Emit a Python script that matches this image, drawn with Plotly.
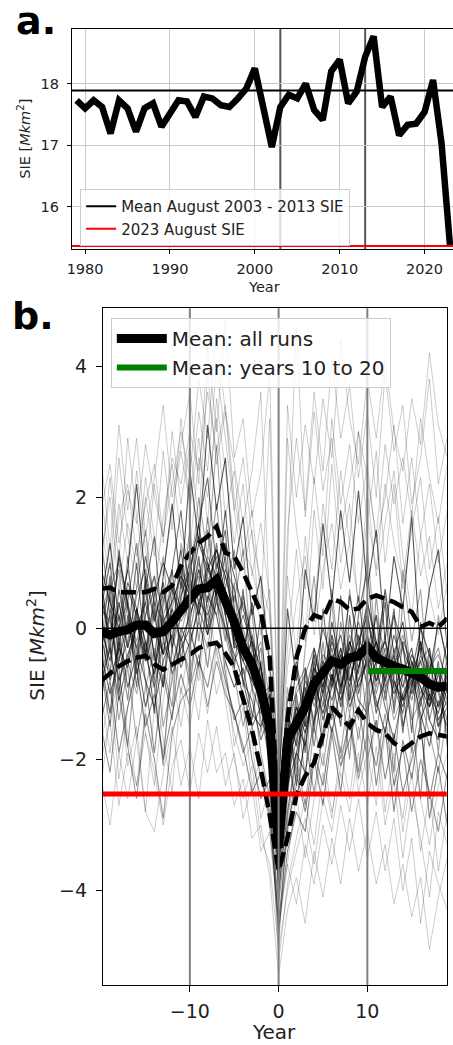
import numpy as np
import plotly.graph_objects as go

# ---- panel a: observed August SIE ----
years_obs = list(range(1979, 2024))
sie_aug = [17.73, 17.60, 17.73, 17.62, 17.19, 17.73, 17.60, 17.22, 17.60, 17.68,
           17.30, 17.52, 17.73, 17.71, 17.46, 17.79, 17.76, 17.65, 17.62, 17.76,
           17.92, 18.25, 17.62, 16.97, 17.62, 17.82, 17.76, 18.00, 17.57, 17.41,
           18.20, 18.39, 17.68, 17.87, 18.44, 18.77, 17.62, 17.79, 17.16, 17.33,
           17.35, 17.54, 18.06, 17.03, 15.36]
ref_years = [2003, 2013]
a_xticks = [1980, 1990, 2000, 2010, 2020]
a_yticks = [16, 17, 18]

# ---- panel b: model runs around a big drop (year 0) ----
years_rel = list(range(-20, 20))
run_mean = [-0.05, -0.10, -0.05, -0.02, 0.05, 0.05, -0.08, -0.05, 0.10, 0.30,
            0.45, 0.60, 0.62, 0.74, 0.45, 0.10, -0.30, -0.55, -0.95, -1.50,
            -3.35, -1.70, -1.45, -1.20, -0.85, -0.65, -0.50, -0.55, -0.45, -0.42,
            -0.28, -0.45, -0.52, -0.58, -0.62, -0.68, -0.75, -0.85, -0.90, -0.88]
run_upper = [0.60, 0.62, 0.55, 0.55, 0.55, 0.55, 0.60, 0.55, 0.65, 0.95,
             1.15, 1.30, 1.40, 1.55, 1.15, 1.10, 0.85, 0.55, 0.25, -0.45,
             -3.00, -1.40, -0.45, 0.00, 0.20, 0.15, 0.45, 0.40, 0.28, 0.30,
             0.45, 0.50, 0.45, 0.40, 0.32, 0.25, 0.02, 0.08, 0.02, 0.15]
run_lower = [-0.80, -0.68, -0.58, -0.50, -0.45, -0.42, -0.55, -0.63, -0.55, -0.48,
             -0.40, -0.30, -0.25, -0.22, -0.38, -0.60, -1.05, -1.55, -2.15, -2.85,
             -3.70, -3.20, -2.55, -2.25, -2.05, -1.60, -1.20, -1.35, -1.50, -1.25,
             -1.45, -1.55, -1.60, -1.75, -1.85, -1.75, -1.65, -1.60, -1.62, -1.65]
b_xticks = [-10, 0, 10]
b_xticktext = ["\u221210", "0", "10"]
b_yticks = [-4, -2, 0, 2, 4]
b_yticktext = ["\u22124", "\u22122", "0", "2", "4"]

run01 = [0.8, -0.4, 1.2, 0.3, -0.9, 0.6, 1.4, -0.2, 0.9, 1.8, 0.4, 1.6, 2.3, 0.9, 1.5, -0.3, 0.6, -0.8, 0.2, -1.9,
         -3.1, -1.2, -2.4, -0.6, -1.5, 0.3, -0.9, 0.5, -1.1, 0.2, 0.9, -0.6, 0.4, -1.3, -0.2, -1.6, 0.1, -1.2, -0.5, -1.8]
run02 = [-1.2, 0.3, -0.6, -1.8, -0.4, 0.7, -0.9, -2.1, -0.3, 0.2, 1.1, -0.2, 0.8, 1.9, 0.6, 1.2, -0.4, 0.3, -1.6, -0.8,
         -4.1, -2.6, -1.1, -2.3, -0.4, -1.7, 0.6, -0.8, -2.0, -0.3, -1.4, 0.5, -0.9, -2.2, -0.6, -1.3, -2.6, -0.7, -1.9, -0.4]
run03 = [0.4, 1.3, 0.1, 0.9, 2.2, 0.7, -0.5, 0.8, 1.9, 0.6, 2.4, 1.3, 3.1, 1.8, 2.6, 0.9, 1.7, 0.2, 0.8, -0.6,
         -2.5, 0.3, -0.8, 0.9, 0.1, 1.6, 0.4, 1.8, 0.7, 2.1, 0.6, 1.5, -0.2, 1.1, 0.3, 1.7, -0.4, 0.6, 1.2, -0.3]
run04 = [-0.6, -1.5, -0.2, -1.1, 0.3, -0.8, -1.9, -0.7, -1.4, -0.1, -0.9, 0.2, -0.6, 0.5, -0.7, -1.4, -1.1, -2.0, -2.6, -2.3,
         -4.6, -3.4, -2.8, -3.1, -2.0, -2.7, -1.6, -2.5, -1.3, -2.2, -1.1, -2.4, -1.5, -2.8, -1.7, -2.3, -1.4, -2.9, -2.1, -3.0]
run05 = [1.4, 0.2, 0.9, -0.3, 0.6, 1.5, 0.3, 1.1, -0.4, 1.3, 0.7, 2.0, 1.1, 2.8, 0.9, 0.4, 1.2, -0.5, -0.2, -1.1,
         -2.8, -0.9, -1.8, -0.3, 0.8, -0.6, 0.4, -1.2, 0.6, -0.5, 1.2, -0.3, 0.5, -0.8, 0.9, -0.2, 0.6, -1.1, 0.2, -0.6]
run06 = [-0.3, 0.5, -1.0, 0.2, -0.7, -0.2, -1.3, 0.4, 0.9, -0.5, 0.3, 1.1, -0.1, 0.6, 1.8, 0.3, -0.8, -1.4, -0.5, -2.2,
         -3.6, -1.9, -2.7, -1.6, -0.9, -1.8, -0.7, -1.5, 0.2, -1.0, -0.4, -1.3, -0.6, 0.3, -1.5, -0.9, -0.2, -1.4, -1.7, -0.6]
run07 = [2.1, 0.9, 2.6, 1.4, 0.6, 2.0, 1.1, 2.7, 1.5, 3.2, 1.8, 2.9, 1.6, 3.5, 2.4, 1.3, 2.2, 0.8, 1.6, 0.4,
         -2.2, 0.8, -0.4, 1.4, 0.2, 1.9, 0.9, 2.4, 1.3, 3.0, 1.6, 2.7, 1.0, 2.2, 0.6, 1.5, 2.3, 0.9, 1.7, 0.5]
run08 = [-1.8, -0.9, -2.3, -1.2, -0.6, -1.6, -2.4, -1.1, -0.3, -1.0, -0.2, -0.8, 0.3, -0.4, -0.9, -1.6, -2.1, -1.7, -2.9, -2.4,
         -5.1, -3.9, -3.2, -2.6, -3.3, -2.2, -2.9, -1.8, -2.6, -1.5, -2.3, -1.4, -2.8, -1.9, -3.1, -2.2, -3.4, -2.5, -3.7, -2.8]
run09 = [0.2, -0.7, 0.6, -0.1, 1.0, -0.4, 0.3, -0.9, 0.5, 1.2, 0.1, 0.9, 0.4, 1.3, 0.2, -0.6, 0.5, -0.2, -1.2, -1.8,
         -3.3, -2.1, -1.0, -1.9, -0.5, -1.2, -0.1, -0.9, -0.3, 0.5, -0.6, 0.2, -1.1, -0.4, -1.6, -0.5, -1.2, -0.3, -1.5, -0.9]
run10 = [-0.9, 0.6, -0.4, 1.1, -0.5, 0.2, 0.8, -0.6, -1.2, 0.4, 1.5, 0.3, 1.7, 0.5, -0.2, 0.7, -0.9, -0.1, -0.7, -1.2,
         -3.9, -1.4, -2.2, -0.7, -1.6, -0.2, -1.3, 0.1, -0.7, -1.4, 0.3, -0.9, -0.1, -1.2, 0.4, -0.8, -1.5, -0.4, -0.9, -1.6]
run11 = [0.9, 2.3, 1.0, 2.9, 1.7, 0.8, 2.2, 1.3, 3.0, 1.9, 2.8, 1.6, 3.9, 2.5, 3.3, 1.8, 0.9, 1.5, -0.1, 0.6,
         -2.4, -0.3, 1.2, -0.2, 1.8, 0.6, 2.5, 1.0, 1.9, 0.3, 2.1, 0.8, 1.6, 2.4, 1.1, 0.2, 1.4, 0.5, -0.1, 0.7]
run12 = [-2.4, -1.3, -0.8, -2.1, -1.5, -2.8, -1.2, -1.9, -0.7, -1.5, -0.6, -1.4, -0.2, -1.0, -0.5, -1.8, -1.2, -2.4, -2.0, -3.1,
         -4.4, -3.6, -2.5, -3.5, -2.6, -1.9, -2.8, -2.1, -1.4, -2.5, -1.9, -2.7, -1.6, -2.2, -2.9, -1.8, -2.6, -3.3, -2.4, -1.9]
run13 = [0.5, -0.2, 1.1, 0.4, -0.6, 0.8, 0.1, 0.7, -0.3, 0.5, 0.9, 1.6, 0.6, 1.2, 0.8, 0.2, -0.4, 0.4, -0.6, -1.3,
         -3.0, -1.6, -0.6, -1.5, -0.3, -1.0, 0.1, -0.6, 0.5, -0.2, 0.2, -0.5, 0.6, -0.4, 0.1, -0.9, -0.2, -0.7, 0.1, -0.5]
run14 = [-0.2, 0.8, -0.5, 0.4, 1.3, 0.1, -0.8, 0.6, 0.0, 0.9, -0.1, 0.7, 1.5, 0.4, 0.9, 0.6, -0.1, -0.7, -0.3, -1.6,
         -3.5, -2.3, -1.7, -0.9, -1.8, -0.8, -1.4, -0.3, -1.1, -0.6, -0.2, -1.0, -0.4, -0.9, -1.3, -0.5, -0.9, -1.4, -0.8, -1.2]
run15 = [-1.1, -0.2, -1.4, -0.6, -1.7, -0.9, -0.3, -1.5, -0.8, -0.2, -0.7, 0.1, -0.3, 0.6, -0.1, -0.7, -1.5, -0.9, -1.9, -2.6,
         -4.8, -2.9, -2.0, -2.7, -1.5, -2.1, -1.2, -1.9, -0.9, -1.7, -0.8, -1.6, -0.7, -1.4, -1.0, -1.9, -1.1, -1.6, -2.2, -1.3]
run16 = [1.6, 0.7, 1.9, 1.0, 2.4, 1.2, 0.5, 1.7, 2.5, 1.4, 1.2, 2.6, 2.0, 3.2, 1.7, 2.4, 1.1, 1.8, 0.5, -0.4,
         -2.3, -0.6, 0.4, 1.1, -0.1, 0.9, 1.6, 0.6, 1.3, 0.4, 1.7, 0.9, 2.2, 1.3, 0.7, 1.8, 0.8, 1.4, 0.3, 1.0]
run17 = [-0.5, -1.3, -0.1, -0.9, -0.4, -1.2, -0.6, 0.2, -0.7, -0.3, 0.0, -0.6, 0.5, 0.2, -0.5, -0.9, -0.6, -1.3, -1.5, -1.0,
         -3.8, -2.4, -1.9, -1.3, -0.7, -1.4, -0.9, -0.4, -1.2, -0.8, -0.5, -1.1, -1.6, -0.8, -1.2, -0.6, -1.4, -1.0, -1.3, -0.7]
run18 = [0.3, 1.0, -0.3, 0.6, 0.2, 1.1, 0.4, -0.4, 0.7, 0.3, 0.8, 0.2, 1.0, 0.5, 1.1, -0.2, 0.2, -0.3, -0.9, -1.4,
         -2.9, -1.3, -1.8, -1.0, -0.4, -0.9, -0.3, -1.0, -0.2, -0.7, 0.4, -0.3, -0.8, -0.1, -0.6, -1.0, -0.4, -0.8, -1.2, -0.6]
run19 = [-1.5, -2.2, -1.0, -1.8, -2.6, -1.3, -2.0, -2.9, -1.6, -1.1, -0.9, -0.4, -1.2, -0.5, -1.0, -1.3, -1.9, -1.5, -2.3, -2.8,
         -4.2, -3.0, -2.4, -1.7, -2.5, -1.6, -1.2, -2.0, -1.4, -2.3, -1.6, -2.1, -1.3, -2.4, -1.8, -2.8, -2.0, -2.5, -3.1, -2.2]
run20 = [0.0, -0.5, 0.4, -0.3, 0.3, -0.2, -0.7, 0.1, 0.4, 0.8, 0.5, 1.3, 0.9, 0.6, 0.3, -0.1, -0.5, -0.8, -1.1, -1.9,
         -3.4, -1.8, -1.2, -1.6, -1.0, -0.5, -0.8, -0.3, -0.9, -0.1, -0.6, -0.2, -0.7, -0.5, -0.9, -0.4, -0.7, -1.1, -0.6, -1.0]
run21 = [2.6, 1.2, 3.1, 1.8, 2.9, 1.4, 2.3, 3.4, 2.0, 2.8, 3.6, 2.2, 4.3, 3.0, 4.7, 2.6, 3.2, 1.7, 2.4, 3.9,
         -2.0, 1.5, 2.9, 1.8, 3.6, 2.4, 4.1, 2.9, 3.7, 2.3, 3.3, 2.0, 3.9, 2.7, 3.4, 1.9, 2.6, 3.8, 2.2, 2.9]
run22 = [-2.3, -3.0, -1.9, -2.6, -1.7, -2.8, -3.1, -2.2, -1.5, -2.4, -1.8, -2.6, -1.4, -2.2, -1.9, -2.7, -2.3, -3.2, -3.0, -3.8,
         -5.3, -4.3, -3.8, -4.5, -3.4, -4.1, -3.2, -3.9, -2.9, -3.7, -3.1, -3.9, -3.3, -4.2, -3.6, -4.4, -3.8, -4.9, -4.1, -3.5]
run23 = [1.1, 2.0, 0.6, 1.6, 0.9, 2.3, 1.4, 0.8, 1.8, 2.7, 1.9, 3.3, 2.4, 4.0, 2.9, 1.8, 2.6, 1.4, 0.7, 0.2,
         -2.6, 2.9, 1.5, 0.6, 2.3, 1.1, 3.2, 1.9, 2.8, 1.6, 2.5, 1.3, 2.0, 3.1, 1.6, 2.6, 1.4, 2.2, 1.0, 1.8]
run24 = [-1.0, -1.9, -0.7, -1.6, -2.4, -1.2, -0.8, -1.7, -2.5, -0.9, -1.5, -0.6, -1.3, -0.3, -1.1, -2.0, -2.6, -2.1, -3.2, -3.6,
         -4.9, -4.0, -3.4, -2.9, -3.6, -2.6, -3.1, -2.2, -2.8, -1.9, -2.7, -1.8, -3.0, -2.3, -3.5, -2.5, -3.2, -4.1, -2.8, -3.3]
run25 = [0.3, 0.1, -0.6, -0.2, 0.5, 0.9, 0.2, -0.4, -0.1, 0.6, 1.0, 0.4, 0.7, 1.1, 0.2, -0.5, -0.2, -0.9, -1.3, -1.0,
         -3.2, -2.0, -1.6, -0.8, -1.1, -0.4, -0.6, -1.2, -0.5, 0.1, -0.4, -0.8, -0.3, -0.9, -0.6, -1.1, -0.5, -0.3, -1.0, -1.4]
run26 = [-0.7, -0.2, 0.2, -0.5, -1.0, -0.3, 0.4, 0.1, -0.6, -0.1, 0.5, 0.8, 0.1, 0.9, 0.4, 0.0, -0.7, -0.4, -1.4, -1.7,
         -3.7, -1.5, -2.0, -1.4, -0.6, -0.9, -0.2, -0.7, -1.3, -0.6, -0.1, -0.7, -1.0, -0.3, -0.8, -1.4, -1.1, -0.5, -1.2, -0.8]
run27 = [0.9, 0.4, 0.0, 0.7, 0.3, -0.4, 0.5, 1.0, 0.6, 0.2, 0.9, 1.4, 1.0, 0.5, 1.3, 0.8, 0.3, -0.2, -0.6, -1.5,
         -2.7, -1.1, -0.5, -1.3, -0.7, 0.0, -0.5, -0.1, -0.8, -0.3, 0.4, -0.2, -0.6, 0.2, -0.3, -0.7, 0.0, -0.4, -0.9, -0.2]
run28 = [-0.4, -1.0, -0.5, 0.1, -0.3, -0.8, -1.2, -0.5, -0.1, -0.6, -0.2, 0.3, -0.1, 0.4, 0.0, -0.6, -1.0, -1.5, -1.2, -2.1,
         -4.0, -2.8, -1.9, -2.2, -1.4, -1.0, -1.6, -0.9, -0.5, -1.1, -1.3, -0.6, -1.2, -1.7, -1.0, -0.7, -1.3, -1.8, -1.1, -1.5]
run29 = [0.1, 0.6, 1.0, 0.3, -0.2, 0.4, 0.8, 0.2, 0.6, 0.1, 0.4, 0.9, 0.3, 1.0, 0.5, 0.1, 0.4, -0.1, -0.8, -1.2,
         -2.9, -1.7, -0.9, -0.6, -1.2, -0.7, -0.1, -0.6, -0.2, -0.8, -0.3, 0.2, -0.4, -0.7, -0.2, -0.5, -1.0, -0.6, -0.3, -0.9]
run30 = [-0.1, -0.8, -0.3, -0.6, 0.1, -0.5, 0.0, -0.4, 0.3, -0.2, 0.2, 0.6, 0.0, 0.8, 0.6, -0.3, -0.2, -0.6, -1.0, -1.6,
         -3.4, -1.9, -1.4, -1.8, -0.8, -1.3, -0.7, -1.1, -0.6, -0.2, -0.9, -0.5, -0.2, -0.8, -1.1, -0.6, -0.9, -1.2, -0.7, -1.1]
run31 = [1.8, 2.5, 1.3, 2.1, 1.6, 2.8, 2.0, 1.4, 2.6, 2.2, 3.0, 2.4, 3.6, 2.7, 3.4, 2.0, 1.2, 0.9, 0.3, 3.2,
         -2.1, 3.4, 2.0, 3.1, 2.2, 3.5, 2.6, 4.4, 3.2, 2.5, 3.8, 2.9, 4.1, 3.0, 2.4, 3.5, 2.8, 4.2, 3.1, 2.6]
run32 = [-2.0, -1.4, -2.7, -1.9, -2.4, -1.6, -2.2, -3.0, -2.1, -1.7, -2.5, -1.6, -2.2, -1.5, -2.4, -1.9, -2.9, -2.4, -3.4, -3.1,
         -4.6, -3.6, -4.2, -3.3, -3.9, -3.0, -3.6, -2.7, -3.4, -2.6, -3.5, -2.8, -3.7, -2.9, -4.0, -3.2, -4.5, -3.4, -3.9, -4.3]
run33 = [1.2, 0.5, 1.7, 2.2, 1.1, 1.9, 2.5, 1.4, 2.2, 3.0, 2.3, 3.8, 2.9, 4.5, 3.3, 2.5, 1.6, 2.4, 3.6, 0.2,
         -2.4, 1.0, 4.6, 1.7, 3.3, 2.1, 2.9, 1.5, 2.2, 3.0, 2.3, 1.4, 2.8, 1.9, 2.6, 1.7, 3.2, 2.3, 1.6, 2.5]
run34 = [-1.4, -0.8, -1.9, -1.2, -0.6, -1.5, -1.0, -2.0, -1.3, -0.7, -1.2, -0.5, -0.9, -0.2, -0.8, -1.3, -1.8, -2.5, -2.2, -2.9,
         -4.5, -3.1, -2.2, -2.8, -1.9, -2.4, -1.5, -2.1, -1.7, -1.2, -2.0, -1.4, -2.3, -1.6, -2.5, -2.0, -1.5, -2.6, -1.9, -2.3]
run35 = [0.6, -0.1, 0.3, 0.9, 0.1, -0.5, 0.2, 0.5, -0.2, 0.7, 0.3, 1.0, 0.6, 0.2, 0.8, 0.3, -0.3, -0.9, -0.6, -1.4,
         -3.1, -1.9, -1.3, -0.9, -1.4, -0.6, -0.9, -0.4, -0.8, -0.3, -0.7, -0.2, -0.9, -0.6, -0.3, -1.0, -0.7, -1.2, -0.9, -0.5]
run36 = [-0.3, 0.2, -0.8, -0.4, 0.0, 0.4, -0.4, -0.9, 0.1, 0.3, 0.7, 0.2, 0.9, 1.2, 0.5, -0.2, -0.5, -0.2, -1.0, -1.8,
         -3.6, -2.2, -1.5, -1.1, -0.6, -1.0, -0.4, -0.9, -0.2, -0.6, -0.1, -0.8, -0.5, -1.0, -0.7, -0.3, -1.1, -0.8, -1.4, -1.1]
run37 = [-0.8, -0.3, -1.1, -0.5, 0.2, -0.4, -0.9, -0.2, -0.6, 0.0, -0.3, 0.4, 0.2, 0.7, 0.0, -0.4, -0.8, -1.1, -1.7, -1.3,
         -3.3, -2.5, -1.2, -1.5, -1.0, -0.7, -1.1, -0.6, -0.3, -0.9, -0.5, -1.2, -0.8, -0.4, -1.1, -0.8, -0.5, -1.0, -1.5, -1.2]
run38 = [0.2, 0.7, 0.0, 0.4, -0.3, 0.2, 0.6, -0.1, 0.3, 0.9, 0.6, 0.3, 1.1, 0.8, 0.2, 0.5, 0.0, -0.5, -1.0, -0.9,
         -2.8, -1.4, -1.0, -0.7, -0.3, -0.8, -0.2, -0.7, -0.1, -0.5, 0.1, -0.4, -0.2, -0.6, -0.1, -0.7, -0.3, -0.6, -0.4, -0.8]

core_runs = [run01, run02, run03, run04, run05, run06, run09, run10, run13, run14, run15, run17, run18,
             run19, run20, run25, run26, run27, run28, run29, run30, run34, run35, run36, run37, run38]
outer_runs = [run07, run08, run11, run12, run16, run21, run22, run23, run24, run31, run32, run33]

# derived reference values
ref_mean = float(np.mean([v for y, v in zip(years_obs, sie_aug) if ref_years[0] <= y <= ref_years[1]]))
sie_2023 = sie_aug[-1]
anom_2023 = sie_2023 - ref_mean
late_years = [y for y in years_rel if y >= 10]
late_mean = float(np.mean([m for y, m in zip(years_rel, run_mean) if y >= 10]))

FONT = "DejaVu Sans"
fig = go.Figure()

# ---- panel a traces ----
span_a = [years_obs[0] - 5, years_obs[-1] + 5]
fig.add_trace(go.Scatter(x=years_obs, y=sie_aug, mode="lines", line=dict(color="black", width=6.5),
                         showlegend=False, xaxis="x", yaxis="y"))
fig.add_trace(go.Scatter(x=span_a, y=[ref_mean, ref_mean], mode="lines", line=dict(color="black", width=2),
                         name="Mean August 2003 - 2013 SIE", legend="legend", xaxis="x", yaxis="y"))
fig.add_trace(go.Scatter(x=span_a, y=[sie_2023, sie_2023], mode="lines", line=dict(color="red", width=2),
                         name="2023 August SIE", legend="legend", xaxis="x", yaxis="y"))

# ---- panel b traces ----
for r in outer_runs:
    fig.add_trace(go.Scatter(x=years_rel, y=r, mode="lines", line=dict(color="rgba(0,0,0,0.2)", width=1),
                             showlegend=False, hoverinfo="skip", xaxis="x2", yaxis="y2"))
alphas = [0.55, 0.4, 0.65, 0.45, 0.35, 0.6]
for i, r in enumerate(core_runs):
    a = alphas[i % len(alphas)]
    fig.add_trace(go.Scatter(x=years_rel, y=r, mode="lines", line=dict(color=f"rgba(0,0,0,{a})", width=1.1),
                             showlegend=False, hoverinfo="skip", xaxis="x2", yaxis="y2"))
fig.add_trace(go.Scatter(x=years_rel, y=run_mean, mode="lines", line=dict(color="black", width=9),
                         name="Mean: all runs", legend="legend2", xaxis="x2", yaxis="y2"))
for band in (run_upper, run_lower):
    fig.add_trace(go.Scatter(x=years_rel, y=band, mode="lines",
                             line=dict(color="black", width=4.5, dash="15px,6px"),
                             showlegend=False, xaxis="x2", yaxis="y2"))
fig.add_trace(go.Scatter(x=[late_years[0], late_years[-1] + 1], y=[late_mean, late_mean], mode="lines",
                         line=dict(color="green", width=6),
                         name="Mean: years 10 to 20", legend="legend2", xaxis="x2", yaxis="y2"))

shapes = []
for yr in ref_years:
    shapes.append(dict(type="line", xref="x", yref="y domain", x0=yr, x1=yr, y0=0, y1=1,
                       line=dict(color="#555555", width=2), layer="below"))
for t in b_xticks:
    shapes.append(dict(type="line", xref="x2", yref="y2 domain", x0=t, x1=t, y0=0, y1=1,
                       line=dict(color="#808080", width=2), layer="above"))
shapes.append(dict(type="line", xref="x2 domain", yref="y2", x0=0, x1=1, y0=0, y1=0,
                   line=dict(color="black", width=1.5), layer="above"))
shapes.append(dict(type="line", xref="x2 domain", yref="y2", x0=0, x1=1, y0=anom_2023, y1=anom_2023,
                   line=dict(color="red", width=5), layer="above"))

W, H = 453, 1045
ax_common = dict(showline=True, linecolor="black", linewidth=1, ticks="outside", tickcolor="black",
                 zeroline=False)

annotations = [
    dict(text="<b>a.</b>", x=9 / W, y=1 - 21 / H, xref="paper", yref="paper", xanchor="left",
         yanchor="middle", showarrow=False, font=dict(size=38, color="black", family=FONT)),
    dict(text="<b>b.</b>", x=5 / W, y=1 - 316 / H, xref="paper", yref="paper", xanchor="left",
         yanchor="middle", showarrow=False, font=dict(size=38, color="black", family=FONT)),
    dict(text="SIE [<i>Mkm</i><sup>2</sup>]", x=19 / W, y=1 - 139 / H, xref="paper", yref="paper",
         textangle=-90, showarrow=False, xanchor="center", yanchor="middle",
         font=dict(size=14.5, color="#222", family=FONT)),
    dict(text="Year", x=262 / W, y=1 - 287 / H, xref="paper", yref="paper", showarrow=False,
         xanchor="center", yanchor="middle", font=dict(size=14.5, color="#222", family=FONT)),
    dict(text="SIE [<i>Mkm</i><sup>2</sup>]", x=31 / W, y=1 - 646 / H, xref="paper", yref="paper",
         textangle=-90, showarrow=False, xanchor="center", yanchor="middle",
         font=dict(size=20, color="#222", family=FONT)),
    dict(text="Year", x=272 / W, y=1 - 1032 / H, xref="paper", yref="paper", showarrow=False,
         xanchor="center", yanchor="middle", font=dict(size=20, color="#222", family=FONT)),
]

fig.update_layout(
    width=W, height=H, margin=dict(l=0, r=0, t=0, b=0),
    paper_bgcolor="white", plot_bgcolor="white",
    font=dict(family=FONT, color="#222"),
    xaxis=dict(domain=[67.7 / W, 1.0], range=[1978.45, 2023.35], anchor="y", tickvals=a_xticks,
               showgrid=True, gridcolor="#c8c8c8", gridwidth=1, mirror=True, ticklen=4,
               ticklabelstandoff=3, tickfont=dict(size=14.5), **ax_common),
    yaxis=dict(domain=[1 - 249 / H, 1 - 29 / H], range=[15.31, 18.89], anchor="x", tickvals=a_yticks,
               showgrid=True, gridcolor="#c8c8c8", gridwidth=1, ticklen=4,
               ticklabelstandoff=5, tickfont=dict(size=14.5), **ax_common),
    xaxis2=dict(domain=[99 / W, 446.7 / W], range=[-19.8, 18.95], anchor="y2", tickvals=b_xticks,
                ticktext=b_xticktext, showgrid=False, mirror=True, ticklen=6,
                ticklabelstandoff=3, tickfont=dict(size=19), **ax_common),
    yaxis2=dict(domain=[1 - 985 / H, 1 - 308.3 / H], range=[-5.44, 4.88], anchor="x2", tickvals=b_yticks,
                ticktext=b_yticktext, showgrid=False, mirror=True, ticklen=6,
                ticklabelstandoff=5, tickfont=dict(size=19), **ax_common),
    legend=dict(x=76 / W, y=1 - 189 / H, xanchor="left", yanchor="top", font=dict(size=15, color="#222"),
                bgcolor="rgba(255,255,255,0.8)", bordercolor="#cccccc", borderwidth=1),
    legend2=dict(x=107 / W, y=1 - 318 / H, xanchor="left", yanchor="top", font=dict(size=20, color="#222"),
                 bgcolor="rgba(255,255,255,0.8)", bordercolor="#cccccc", borderwidth=1, itemwidth=50),
    shapes=shapes,
    annotations=annotations,
)

fig.write_html("out.html", config={"displayModeBar": False},
               post_script="document.body.style.margin='0';document.body.style.overflow='hidden';")
